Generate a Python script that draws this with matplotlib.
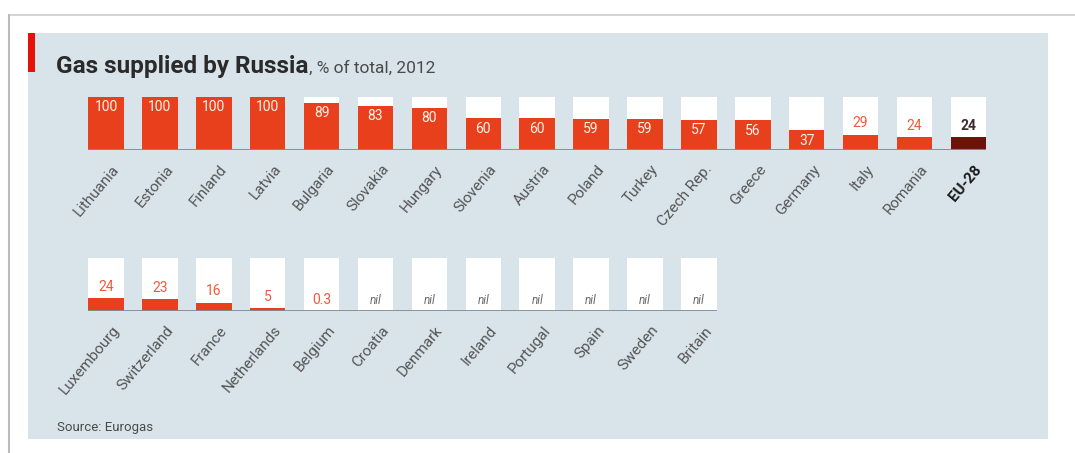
import matplotlib
matplotlib.use("Agg")
import matplotlib.pyplot as plt
from matplotlib.patches import Rectangle
from matplotlib.lines import Line2D

# ---- data ----
top_countries = ["Lithuania", "Estonia", "Finland", "Latvia", "Bulgaria", "Slovakia",
                 "Hungary", "Slovenia", "Austria", "Poland", "Turkey", "Czech Rep.",
                 "Greece", "Germany", "Italy", "Romania", "EU-28"]
top_values = [100, 100, 100, 100, 89, 83, 80, 60, 60, 59, 59, 57, 56, 37, 29, 24, 24]
top_labels = ["100", "100", "100", "100", "89", "83", "80", "60", "60", "59", "59",
              "57", "56", "37", "29", "24", "24"]

bottom_countries = ["Luxembourg", "Switzerland", "France", "Netherlands", "Belgium",
                    "Croatia", "Denmark", "Ireland", "Portugal", "Spain", "Sweden", "Britain"]
bottom_values = [24, 23, 16, 5, 0.3, 0, 0, 0, 0, 0, 0, 0]
bottom_labels = ["24", "23", "16", "5", "0.3", "nil", "nil", "nil", "nil", "nil", "nil", "nil"]

FONT = ["Roboto", "DejaVu Sans"]
plt.rcParams["font.family"] = FONT

W, H = 1075, 453
fig = plt.figure(figsize=(W / 100, H / 100), dpi=100)
fig.patch.set_facecolor("white")

def fx(x):
    return x / W

def fy(y):
    return 1 - y / H

PANEL = "#d9e4ea"
RED = "#e8401c"
DARK = "#6b1409"
GREY_TXT = "#4a4a4a"

# outer frame lines
fig.add_artist(Line2D([fx(9), fx(1075)], [fy(15), fy(15)], color="#cccccc", lw=1.2,
                      transform=fig.transFigure))
fig.add_artist(Line2D([fx(9), fx(9)], [fy(15), fy(453)], color="#bbbbbb", lw=1.5,
                      transform=fig.transFigure))
# panel
fig.add_artist(Rectangle((fx(28), fy(439)), fx(1048) - fx(28), fy(33) - fy(439),
                         transform=fig.transFigure, facecolor=PANEL, edgecolor="none", zorder=0))
# red marker
fig.add_artist(Rectangle((fx(28), fy(72)), fx(35) - fx(28), fy(33) - fy(72),
                         transform=fig.transFigure, facecolor="#e3120b", edgecolor="none", zorder=1))

# title
t = fig.text(fx(56), fy(73), "Gas supplied by Russia", fontsize=17.5, fontweight="bold",
             color="#2a2a2a", ha="left", va="baseline")
fig.canvas.draw()
bb = t.get_window_extent()
fig.text(bb.x1 / W + 0.001, fy(73), ", % of total, 2012", fontsize=12.5, color=GREY_TXT,
         ha="left", va="baseline")

fig.text(fx(57), fy(428), "Source: Eurogas", fontsize=9.5, color=GREY_TXT, ha="left", va="center")

SP = 53.9
BW = 0.66

def draw_row(values, labels, countries, left_px, base_px, top_px, highlight_last):
    n = len(values)
    ax = fig.add_axes([fx(left_px), fy(base_px), n * SP / W, (base_px - top_px) / H])
    ax.set_xlim(-0.5, n - 0.5)
    ax.set_ylim(0, 100)
    ax.axis("off")
    xs = list(range(n))
    ax.bar(xs, [100] * n, width=BW, color="white", zorder=1)
    colors = [RED] * n
    if highlight_last:
        colors[-1] = DARK
    ax.bar(xs, values, width=BW, color=colors, zorder=2)
    ax.hlines(0, -BW / 2, n - 1 + BW / 2, color="#7d8e96", lw=1.3, zorder=3)
    for i, (v, lab) in enumerate(zip(values, labels)):
        if lab == "nil":
            ax.annotate(lab, (i, 0), xytext=(0, 3), textcoords="offset points",
                        ha="center", va="bottom", fontsize=8.5, style="italic",
                        color="#6a6a6a", zorder=4)
        elif v >= 35:
            ax.annotate(lab, (i, v), xytext=(0, -2.5), textcoords="offset points",
                        ha="center", va="top", fontsize=10, color="#fff2ea", zorder=4)
        else:
            c = "#3b2b2b" if (highlight_last and i == n - 1) else "#ee5a3c"
            fw = "bold" if (highlight_last and i == n - 1) else "normal"
            ax.annotate(lab, (i, v), xytext=(0, 3), textcoords="offset points",
                        ha="center", va="bottom", fontsize=10, color=c, fontweight=fw,
                        zorder=4)
    for i, name in enumerate(countries):
        bold = highlight_last and i == n - 1
        ax.annotate(name, (i + 0.2, 0), xytext=(0, -12), textcoords="offset points",
                    ha="right", va="center", rotation=50, rotation_mode="anchor",
                    fontsize=11, color="#1a1a1a" if bold else "#555555",
                    fontweight="bold" if bold else "normal", annotation_clip=False)
    return ax

draw_row(top_values, top_labels, top_countries, 106 - SP / 2, 150, 97, True)
draw_row(bottom_values, bottom_labels, bottom_countries, 106 - SP / 2, 311, 258, False)

fig.savefig("out.png", dpi=100, facecolor="white")
